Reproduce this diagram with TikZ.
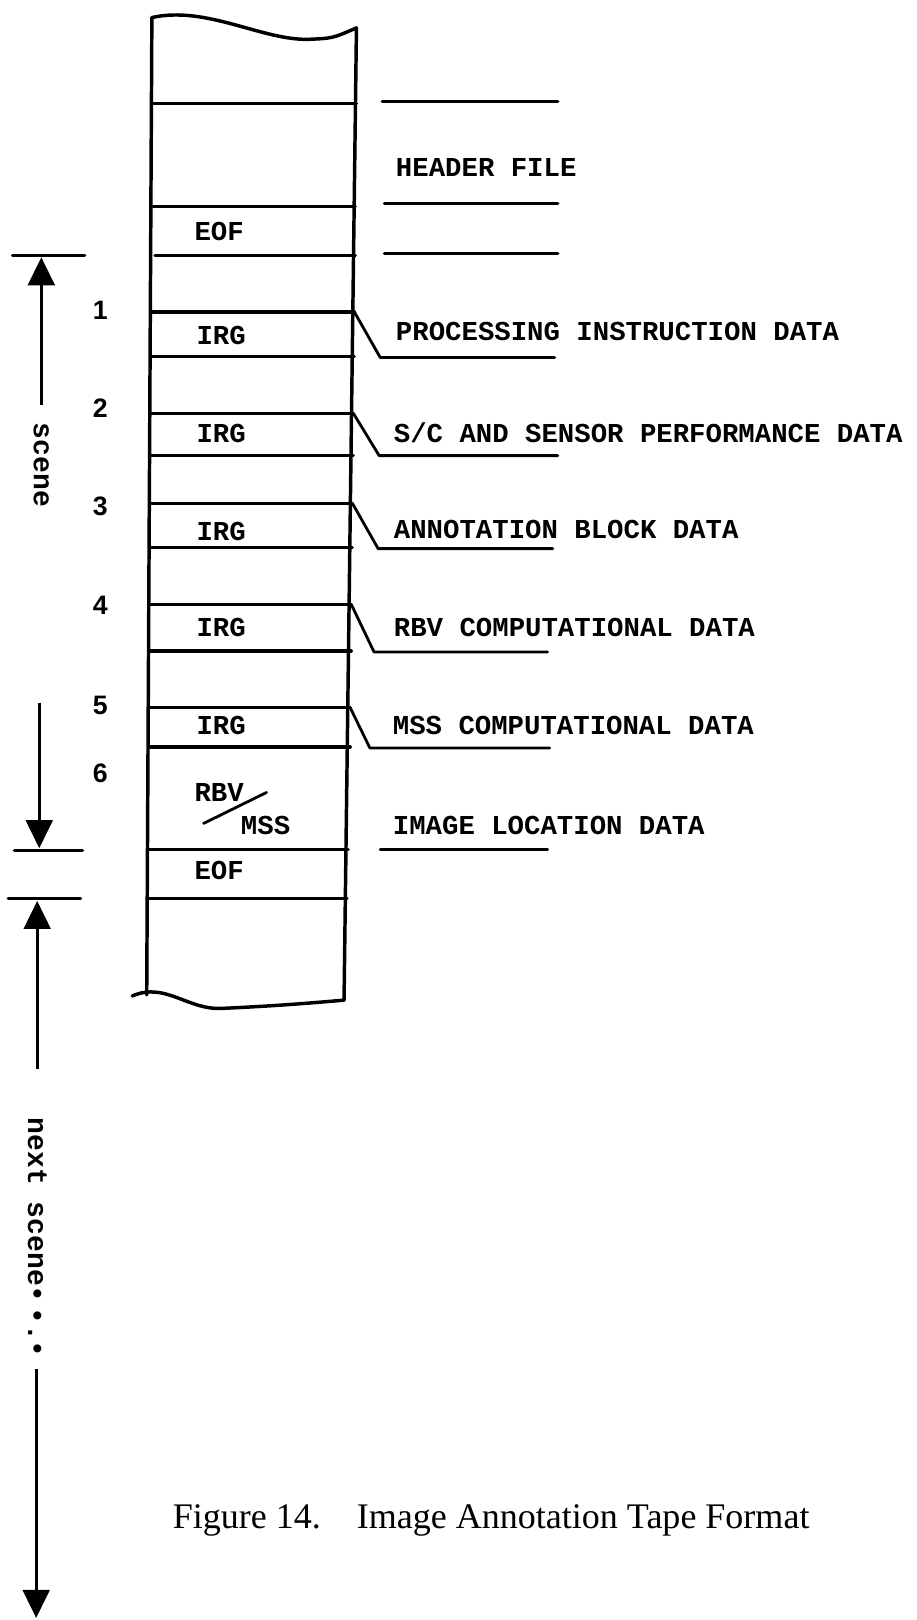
\documentclass[tikz,border=0pt]{standalone}
\usepackage{fontspec}
\setmainfont{Liberation Serif}
\setmonofont{Liberation Mono}
\newfontfamily\numfont{Liberation Sans}
\usetikzlibrary{arrows.meta}
\begin{document}
\begin{tikzpicture}[x=0.7745pt,y=-0.7745pt,
  tapeedge/.style={line width=2.6pt, line cap=round},
  tapeline/.style={line width=2.4pt, line cap=round},
  lead/.style={line width=2.1pt, line cap=round, line join=round},
  dimline/.style={line width=2.4pt, line cap=round},
  dimarrow/.style={line width=2.2pt, -{Triangle[width=20pt,length=21pt]}},
  mono/.style={font=\fontsize{20.5}{22}\selectfont\ttfamily\bfseries, inner sep=0pt, anchor=base west},
  numlbl/.style={font=\fontsize{20}{22}\selectfont\numfont\bfseries, inner sep=0pt},
  sidelbl/.style={font=\fontsize{21}{23}\selectfont\ttfamily\bfseries, inner sep=0pt, rotate=-90},
  caption/.style={font=\fontsize{27}{30}\selectfont, inner sep=0pt, anchor=base west}]
\useasboundingbox (0,0) rectangle (887,1568);

% ---------------- tape outline ----------------
\coordinate (tl) at (147,17);
\coordinate (tr) at (345,27);
\coordinate (bl) at (142,963);
\coordinate (br) at (333,968);
\draw[tapeedge] (tl) .. controls (200,5) and (255,40) .. (300,38)
                 .. controls (322,37) .. (tr);
\draw[tapeedge] (tl) -- (bl);
\draw[tapeedge] (tr) -- (br);
\draw[tapeedge] (128,964) .. controls (160,950) and (182,978) .. (215,976)
                 .. controls (260,974) and (300,971) .. (br);

% ---------------- horizontal record lines ----------------
\foreach \y/\xl/\xr in {100/148/345, 200/148/344, 247/150/344, 302/147/343,
  345/147/343, 400/146/342, 441/146/342, 487/146/341, 530/146/341,
  585/145/340, 630/145/340, 685/145/339, 723/145/339, 822/144/337, 870/143/336}
  \draw[tapeline] (\xl,\y) -- (\xr,\y);

% ---------------- header file lines ----------------
\coordinate (h1a) at (370,98);  \coordinate (h1b) at (540,98);
\coordinate (h2a) at (372,197); \coordinate (h2b) at (540,197);
\coordinate (h3a) at (372,245); \coordinate (h3b) at (540,245);
\draw[tapeline] (h1a) -- (h1b);
\draw[tapeline] (h2a) -- (h2b);
\draw[tapeline] (h3a) -- (h3b);

% ---------------- leader lines ----------------
\coordinate (l1a) at (343,302); \coordinate (l1b) at (368,346); \coordinate (l1c) at (537,346);
\coordinate (l2a) at (342,400); \coordinate (l2b) at (367,441); \coordinate (l2c) at (540,441);
\coordinate (l3a) at (341,487); \coordinate (l3b) at (366,531); \coordinate (l3c) at (535,531);
\coordinate (l4a) at (340,585); \coordinate (l4b) at (362,631); \coordinate (l4c) at (530,631);
\coordinate (l5a) at (339,685); \coordinate (l5b) at (358,724); \coordinate (l5c) at (532,724);
\coordinate (l6b) at (368,822); \coordinate (l6c) at (530,822);
\draw[lead] (l1a) -- (l1b) -- (l1c);
\draw[lead] (l2a) -- (l2b) -- (l2c);
\draw[lead] (l3a) -- (l3b) -- (l3c);
\draw[lead] (l4a) -- (l4b) -- (l4c);
\draw[lead] (l5a) -- (l5b) -- (l5c);
\draw[lead] (l6b) -- (l6c);

% ---------------- texts in the tape ----------------
\node[mono] (eof1) at (188,233) {EOF};
\node[mono] (irg1) at (190,333) {IRG};
\node[mono] (irg2) at (190,428) {IRG};
\node[mono] (irg3) at (190,523) {IRG};
\node[mono] (irg4) at (190,616) {IRG};
\node[mono] (irg5) at (190,711) {IRG};
\node[mono] (rbv) at (188,776) {RBV};
\node[mono] (mss) at (233,808) {MSS};
\coordinate (sla) at (197,797);
\coordinate (slb) at (258,767);
\draw[lead] (sla) -- (slb);
\node[mono] (eof2) at (188,851) {EOF};

% ---------------- texts right ----------------
\node[mono] (hdr) at (383,171) {HEADER FILE};
\node[mono] (t1) at (383,330) {PROCESSING INSTRUCTION DATA};
\node[mono] (t2) at (381,428) {S/C AND SENSOR PERFORMANCE DATA};
\node[mono] (t3) at (381,521) {ANNOTATION BLOCK DATA};
\node[mono] (t4) at (381,616) {RBV COMPUTATIONAL DATA};
\node[mono] (t5) at (380,711) {MSS COMPUTATIONAL DATA};
\node[mono] (t6) at (380,808) {IMAGE LOCATION DATA};

% ---------------- numbers ----------------
\node[numlbl] (n1) at (97,300) {1};
\node[numlbl] (n2) at (97,395) {2};
\node[numlbl] (n3) at (97,490) {3};
\node[numlbl] (n4) at (97,586) {4};
\node[numlbl] (n5) at (97,683) {5};
\node[numlbl] (n6) at (97,748) {6};

% ---------------- scene dimension ----------------
\coordinate (s1a) at (12,247);  \coordinate (s1b) at (82,247);
\draw[dimline] (s1a) -- (s1b);
\coordinate (sup0) at (40,392); \coordinate (sup1) at (40,249);
\draw[dimarrow] (sup0) -- (sup1);
\node[sidelbl] (scene) at (40,450) {scene};
\coordinate (sdn0) at (38,680); \coordinate (sdn1) at (38,821);
\draw[dimarrow] (sdn0) -- (sdn1);
\coordinate (s2a) at (14,823);  \coordinate (s2b) at (80,823);
\draw[dimline] (s2a) -- (s2b);

% ---------------- next scene dimension ----------------
\coordinate (s3a) at (8,870);   \coordinate (s3b) at (78,870);
\draw[dimline] (s3a) -- (s3b);
\coordinate (nup0) at (36,1035); \coordinate (nup1) at (36,872);
\draw[dimarrow] (nup0) -- (nup1);
\node[sidelbl] (nscene) at (36,1198) {next scene•\,•.•};
\coordinate (ndn0) at (35,1325); \coordinate (ndn1) at (35,1566);
\draw[dimarrow] (ndn0) -- (ndn1);

% ---------------- caption ----------------
\node[caption] (cap) at (167,1479) {Figure 14.\hspace{1em}Image Annotation Tape Format};
\end{tikzpicture}
\end{document}
